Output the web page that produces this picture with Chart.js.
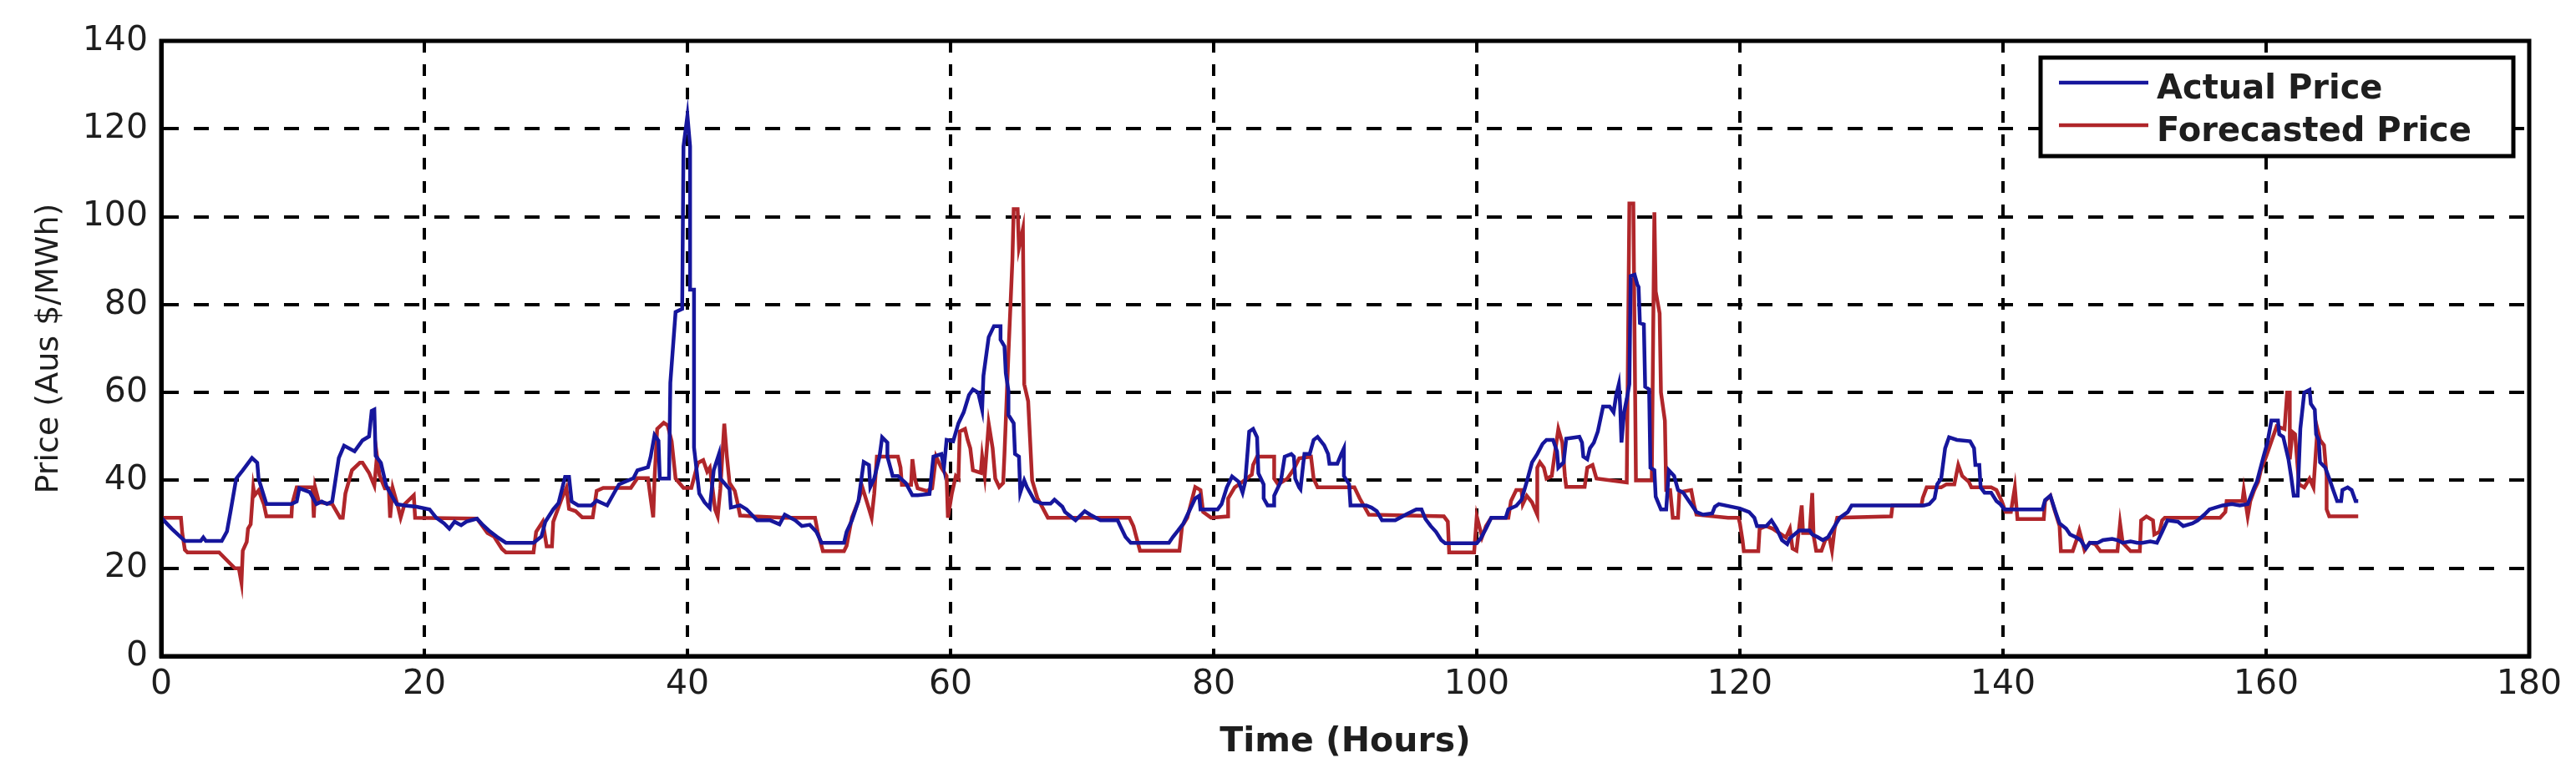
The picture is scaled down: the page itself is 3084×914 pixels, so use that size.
<!DOCTYPE html>
<html>
<head>
<meta charset="utf-8">
<script src="https://cdn.jsdelivr.net/npm/chart.js@4.4.0/dist/chart.umd.min.js"></script>
<style>
html,body{margin:0;padding:0;background:#fff;overflow:hidden}
#wrap{width:3084px;height:914px}
canvas{display:block}
</style>
</head>
<body>
<div id="wrap"><canvas id="c" width="3084" height="914" style="width:3084px;height:914px"></canvas></div>
<script>
// ---- data (hour, price in Aus $/MWh) ----
const seriesLabels = ['Actual Price', 'Forecasted Price'];
const seriesColors = ['#16169c', '#b0262a'];
const xAxisTitle = 'Time (Hours)';
const yAxisTitle = 'Price (Aus $/MWh)';
const xTickValues = [0, 20, 40, 60, 80, 100, 120, 140, 160, 180];
const yTickValues = [0, 20, 40, 60, 80, 100, 120, 140];

const actualPoints = [[0,31.5],[0.8,29],[1.8,26.2],[3.0,26.2],[3.2,27],[3.4,26.2],[4.6,26.2],[5.0,28.4],[5.3,33.4],[5.7,40.4],[6.2,42.3],[6.9,45.1],[7.3,44],[7.4,40.4],[8.0,34.6],[9.9,34.6],[10.3,35.2],[10.5,38.2],[11.3,37.3],[11.8,34.6],[12.2,35.2],[12.6,34.6],[13.0,35.2],[13.5,45.1],[13.9,47.9],[14.7,46.6],[15.3,49.1],[15.8,50],[16.0,55.8],[16.2,56.1],[16.3,45.6],[16.7,44],[17.1,38.8],[17.5,36.6],[17.9,34.6],[18.5,34.3],[19.4,34],[20.4,33.4],[20.9,31.5],[21.5,30.2],[21.9,29],[22.3,30.6],[22.8,29.8],[23.2,30.6],[24.0,31.3],[24.4,30],[24.9,28.6],[25.5,27.2],[26.2,25.8],[28.3,25.8],[28.9,27.2],[29.2,30.6],[29.8,33.4],[30.2,34.8],[30.7,40.8],[31.0,40.8],[31.2,35.2],[31.7,34.3],[32.7,34.3],[33.1,35.4],[33.9,34.3],[34.4,37],[34.8,39.1],[35.9,40.5],[36.2,42.3],[37.0,43],[37.2,45.3],[37.5,50.3],[37.8,49],[37.9,40.4],[38.6,40.4],[38.7,62.2],[39.1,78.3],[39.6,79],[39.7,116],[40.0,123],[40.2,116],[40.2,83.4],[40.5,83.4],[40.5,47.5],[40.9,37],[41.3,35],[41.7,33.7],[42.0,42.3],[42.4,46],[42.5,40.4],[43.2,38],[43.3,33.8],[44.0,34.3],[44.5,33.4],[45.3,30.9],[46.3,30.9],[47.0,30],[47.4,32.2],[48.2,30.9],[48.7,29.6],[49.3,29.9],[49.8,28.3],[50.2,25.8],[51.9,25.8],[52.1,28.3],[52.5,30.9],[53.0,35.3],[53.4,44.2],[53.8,43.5],[53.9,38.5],[54.2,40.4],[54.6,45.4],[54.8,49.8],[55.2,48.6],[55.2,45.4],[55.6,41],[56.0,41],[56.6,39.4],[57.1,36.6],[57.5,36.6],[58.4,36.9],[58.5,39.7],[58.7,45.4],[59.3,46],[59.5,42.9],[59.7,49.2],[60.2,48.9],[60.6,53],[61.0,55.5],[61.4,59.4],[61.7,60.7],[62.1,60],[62.4,56.1],[62.5,63.8],[62.9,72.6],[63.3,75.1],[63.8,75.1],[63.8,72],[64.1,70.5],[64.2,64.4],[64.4,60.4],[64.4,54.9],[64.8,53],[64.9,46],[65.2,45.4],[65.3,37.2],[65.6,40],[65.8,38.5],[66.4,35.3],[67.0,34.7],[67.6,34.7],[67.9,35.6],[68.5,34],[68.7,32.8],[69.5,30.9],[70.2,33],[70.6,32.2],[71.4,30.9],[72.7,30.9],[72.9,29.6],[73.3,27.1],[73.7,25.8],[76.6,25.8],[76.9,27.1],[77.3,28.6],[77.7,30.2],[78.2,33.4],[78.6,35.9],[78.9,36.5],[79.0,33.4],[80.3,33.4],[80.6,34.6],[81.0,38.4],[81.4,40.9],[81.9,39.7],[82.2,37.2],[82.4,39.7],[82.7,51.1],[83.0,51.7],[83.3,49.8],[83.4,41.6],[83.8,39.1],[83.8,35.9],[84.1,34.3],[84.6,34.3],[84.6,36.5],[85.1,39.7],[85.4,45.4],[85.9,46],[86.1,45.4],[86.2,40.4],[86.5,38.4],[86.6,38],[86.8,43.5],[86.9,46],[87.3,46],[87.6,49.2],[87.9,49.9],[88.4,48],[88.7,46],[88.8,43.8],[89.4,43.8],[89.7,46],[89.9,47.3],[89.9,41],[90.3,39.1],[90.4,34.3],[91.6,34.3],[92.0,33.8],[92.4,33],[92.8,30.9],[93.8,30.9],[94.6,32.2],[95.4,33.4],[95.8,33.4],[96.1,31.2],[96.5,29.6],[96.9,28.3],[97.3,26.4],[97.6,25.7],[100.0,25.7],[100.3,26.8],[100.7,29],[101.1,31.5],[102.2,31.5],[102.4,33.4],[103.0,34.2],[103.4,35.6],[103.8,39.7],[104.2,44.1],[104.6,46],[105.0,48.3],[105.3,49.2],[105.8,49.2],[106.1,46.6],[106.2,42.9],[106.6,44.1],[106.8,49.5],[107.8,49.9],[108.0,48.6],[108.1,45.4],[108.4,44.8],[108.6,47.3],[108.9,48.6],[109.2,51.1],[109.6,56.8],[110.1,56.8],[110.4,55.5],[110.6,59.4],[110.8,61.9],[110.9,57],[111.0,48.6],[111.2,55.5],[111.4,58.5],[111.6,61.9],[111.7,86.5],[112.0,86.8],[112.2,84.6],[112.3,84],[112.4,75.8],[112.7,75.5],[112.8,61.3],[113.1,60.7],[113.2,42.9],[113.5,42.3],[113.6,36.3],[114.0,33.4],[114.4,33.4],[114.6,42.3],[115.0,41],[115.3,37.8],[115.7,37.2],[115.9,36.3],[116.7,32.8],[117.2,32.2],[117.9,32.5],[118.1,34],[118.4,34.6],[120.0,33.6],[120.7,32.8],[121.1,31.5],[121.3,29.6],[122.0,29.6],[122.4,30.9],[122.8,29],[123.2,26.4],[123.6,25.5],[123.8,26.8],[124.5,28.6],[125.3,28.6],[125.5,27.7],[125.9,27.1],[126.3,26.4],[126.7,27.1],[127.2,29.6],[127.6,31.5],[128.2,32.8],[128.5,34.3],[134.0,34.3],[134.4,34.6],[134.8,35.9],[135.0,39.1],[135.3,40.4],[135.6,47.3],[135.9,49.8],[136.5,49.2],[137.5,48.9],[137.8,47.3],[137.9,43.5],[138.2,43.5],[138.3,38.4],[138.6,37.2],[139.1,37.2],[139.5,35.3],[139.8,34.6],[140.1,33.4],[143.0,33.4],[143.2,35.5],[143.6,36.5],[144.0,32.8],[144.3,30.2],[144.8,29],[145.1,27.7],[145.5,27.1],[145.9,26.4],[146.3,24.5],[146.6,25.8],[147.2,25.8],[147.6,26.4],[148.3,26.7],[148.7,26.4],[149.1,25.8],[149.7,26.1],[150.2,25.8],[150.6,25.8],[151.2,26.1],[151.7,25.8],[152.1,28.3],[152.5,30.9],[153.3,30.6],[153.7,29.6],[154.4,30.2],[154.8,30.9],[155.3,32.2],[155.7,33.4],[156.7,34.3],[157.4,34.6],[158.0,34.3],[158.6,34.6],[159.1,38.4],[159.3,39.7],[159.8,45.4],[160.1,48.6],[160.4,53.6],[160.9,53.6],[161.0,50.5],[161.3,49.9],[161.7,44.8],[161.9,40.9],[162.1,36.5],[162.4,36.5],[162.5,44.1],[162.6,51.7],[162.9,60],[163.3,60.6],[163.4,57.4],[163.7,56.1],[163.8,50.5],[164.0,49.2],[164.1,44.1],[164.5,42.9],[164.8,40.4],[165.1,37.8],[165.4,35.3],[165.7,35.3],[165.8,37.8],[166.2,38.4],[166.5,37.8],[166.8,35.3],[167.0,35.3]];

const forecastPoints = [[0,31.5],[1.5,31.5],[1.6,28],[1.8,24.2],[2.0,23.6],[4.4,23.6],[5.6,20],[5.9,20],[6.1,16.7],[6.2,24],[6.5,26],[6.6,29],[6.8,30],[7.0,38.4],[7.1,36.6],[7.4,37.7],[7.8,34.6],[8.0,31.8],[9.9,31.8],[9.95,34.6],[10.3,38.4],[11.5,38.4],[11.6,31.5],[11.7,38.4],[12.0,35],[13.0,34.6],[13.6,31.5],[13.8,31.5],[14.0,37],[14.5,42.3],[15.1,44],[15.3,44],[15.8,41.7],[16.2,38.8],[16.4,45.6],[16.6,41.1],[17.0,38.2],[17.3,38.2],[17.4,31.5],[17.6,38.2],[18.0,34],[18.2,31.5],[18.5,34.6],[19.2,36.6],[19.3,31.5],[24.0,31.3],[24.8,28],[25.3,27.2],[25.9,24.4],[26.2,23.6],[28.3,23.6],[28.5,28.3],[29.0,30.6],[29.3,25],[29.7,25],[29.8,30.6],[30.4,35.5],[30.8,38.3],[31.0,33.5],[31.5,33],[32.0,31.6],[32.8,31.6],[33.1,37.6],[33.6,38.3],[35.7,38.3],[36.2,40.5],[37.0,40.5],[37.2,36],[37.4,31.6],[37.5,40.4],[37.7,51.7],[38.2,53.1],[38.5,52.5],[38.8,48.9],[39.1,40.4],[39.7,38.3],[40.3,38.3],[40.8,44],[41.2,44.6],[41.5,42],[41.7,42.9],[41.9,38.4],[42.1,33.4],[42.3,31.8],[42.5,38],[42.8,52.9],[43.0,45.4],[43.2,39.4],[43.6,37.6],[43.8,35],[44.0,32],[45.0,31.8],[47.4,31.5],[49.7,31.5],[49.9,28.3],[50.3,23.9],[51.9,23.9],[52.1,25.1],[52.5,31.5],[53.0,35.3],[53.3,38.4],[53.7,34.5],[54.0,31.5],[54.2,37],[54.4,45.4],[56.0,45.4],[56.2,42.9],[56.3,39],[57.0,39],[57.1,44.8],[57.3,40.2],[57.5,38.2],[58.2,37.6],[58.6,38.2],[58.9,45.4],[59.3,42.9],[59.7,41],[59.8,31.5],[60.1,37],[60.4,41],[60.6,40.4],[60.7,51.1],[61.1,51.7],[61.3,49.2],[61.5,47.3],[61.7,42.3],[62.3,41.7],[62.4,45.4],[62.6,41],[62.9,52.9],[63.2,47.3],[63.4,40.4],[63.7,38.5],[64.0,39.4],[64.1,46],[64.4,68.8],[64.7,90],[64.8,101.7],[65.1,101.7],[65.2,93],[65.5,97.2],[65.6,61.9],[65.9,58],[66.1,46],[66.2,40],[66.6,36],[67.4,31.5],[73.6,31.5],[73.9,29.6],[74.4,24],[77.4,24],[77.6,29.6],[78.0,31.5],[78.6,38.5],[79.0,37.8],[79.2,32.8],[79.8,31.5],[81.1,31.8],[81.1,35.9],[81.6,38.4],[82.2,39.7],[82.9,41.3],[83.0,43.5],[83.3,45.4],[84.6,45.4],[84.6,40.4],[84.9,39.1],[85.6,40.4],[86.1,42.6],[86.5,45],[87.4,45.4],[87.6,40.4],[87.9,38.4],[90.7,38.4],[91.1,35.9],[91.8,32.2],[97.5,31.8],[97.8,30.6],[97.9,23.6],[99.8,23.6],[100.0,31.8],[100.4,27.1],[100.7,29.6],[101.1,31.5],[102.4,31.5],[102.6,35.3],[103.0,37.8],[103.4,37.8],[103.5,34.6],[103.8,36.5],[104.2,35],[104.6,32.2],[104.6,42.9],[104.8,44.1],[105.1,42.9],[105.3,40.4],[105.7,41],[105.9,45.4],[106.2,51.7],[106.5,48.6],[106.7,41],[106.8,38.5],[108.2,38.5],[108.4,42.9],[108.8,43.5],[109.1,40.4],[111.4,39.5],[111.6,103],[111.9,103],[112.1,40],[113.3,40],[113.5,101],[113.6,83],[113.9,78],[114.0,60],[114.3,53.6],[114.4,37.8],[114.7,37.8],[114.9,31.5],[115.3,31.5],[115.4,37.3],[116.3,37.8],[116.5,34.6],[116.7,32.2],[119.1,31.5],[119.9,31.5],[120.0,30.2],[120.2,26.4],[120.3,23.9],[121.4,23.9],[121.5,29],[122.0,29.6],[122.5,29],[123.5,27],[123.8,29],[124.0,24.5],[124.3,24],[124.7,34.3],[124.8,28],[125.3,28],[125.5,37.1],[125.6,27.5],[125.8,24],[126.2,24],[126.5,26.5],[126.8,27],[127.0,24],[127.2,29],[127.4,31.5],[131.5,31.8],[131.6,34.3],[133.8,34.3],[133.9,36],[134.2,38.4],[135.3,38.4],[135.7,39.1],[136.3,39.1],[136.6,43.5],[136.9,41],[137.4,39.7],[137.6,38.4],[139.1,38.4],[139.5,37.8],[139.9,35.3],[140.2,32.8],[140.6,32.8],[140.9,38.4],[141.1,31.2],[143.1,31.2],[143.2,35.3],[143.6,36.5],[143.9,33.4],[144.3,29.6],[144.4,23.9],[145.3,23.9],[145.6,26.5],[145.8,28.6],[146.0,26.4],[146.2,24.1],[146.6,25.8],[147.0,25.5],[147.4,23.9],[148.7,23.9],[148.9,30.2],[149.1,25.8],[149.7,23.9],[150.4,23.9],[150.5,30.9],[150.9,31.8],[151.4,30.9],[151.5,27.7],[151.9,28.3],[152.1,30.9],[152.3,31.5],[156.5,31.5],[156.9,32.8],[157.0,35.3],[158.2,35.3],[158.3,37.8],[158.6,31.8],[158.8,35.3],[159.1,37.8],[159.4,39.7],[159.6,42.3],[160.0,45.4],[160.8,52.3],[161.4,51.7],[161.6,60],[161.8,60],[161.8,44.8],[162.0,51],[162.2,50.5],[162.5,39.1],[162.9,38.4],[163.3,40.4],[163.6,38.4],[163.9,51.7],[164.1,49.2],[164.4,48],[164.6,41],[164.6,33.4],[164.8,31.8],[167.0,31.8]];

// ---- chart ----
const toXY = pts => pts.map(p => ({x: p[0], y: p[1]}));
const FONT = '"DejaVu Sans", "Liberation Sans", sans-serif';
Chart.defaults.font.family = FONT;
Chart.defaults.color = '#1e1e1e';

const frame = {
  id: 'frame',
  afterDraw(chart) {
    const {ctx, chartArea: a} = chart;
    ctx.save();
    ctx.strokeStyle = '#000';
    ctx.lineWidth = 5;
    ctx.strokeRect(a.left, a.top, a.right - a.left, a.bottom - a.top);
    // legend box, top-right inside the axes
    const w = 566, h = 118;
    const left = a.right - 19 - w, top = a.top + 20;
    ctx.fillStyle = '#fff';
    ctx.fillRect(left, top, w, h);
    ctx.strokeRect(left, top, w, h);
    chart.data.datasets.forEach((ds, i) => {
      const y = top + 30 + i * 51;
      ctx.strokeStyle = ds.borderColor;
      ctx.lineWidth = 4.5;
      ctx.beginPath();
      ctx.moveTo(left + 22, y);
      ctx.lineTo(left + 129, y);
      ctx.stroke();
      ctx.fillStyle = '#1e1e1e';
      ctx.font = 'bold 40px ' + FONT;
      ctx.textBaseline = 'alphabetic';
      ctx.textAlign = 'left';
      ctx.fillText(ds.label, left + 139, y + 19);
    });
    ctx.restore();
  }
};

new Chart(document.getElementById('c'), {
  type: 'line',
  data: {
    datasets: [
      {label: seriesLabels[0], data: toXY(actualPoints), borderColor: seriesColors[0], borderWidth: 4.5, pointRadius: 0, tension: 0, fill: false},
      {label: seriesLabels[1], data: toXY(forecastPoints), borderColor: seriesColors[1], borderWidth: 4.5, pointRadius: 0, tension: 0, fill: false}
    ]
  },
  options: {
    responsive: false,
    devicePixelRatio: 1,
    animation: false,
    layout: {padding: {top: 49, right: 56, bottom: 0, left: 0}},
    plugins: {legend: {display: false}, tooltip: {enabled: false}},
    scales: {
      x: {
        type: 'linear', min: 0, max: 180,
        afterFit: s => { s.height = 128; },
        afterBuildTicks: s => { s.ticks = xTickValues.map(v => ({value: v})); },
        ticks: {font: {size: 41}, color: '#1e1e1e', padding: 10, maxRotation: 0, autoSkip: false},
        grid: {color: '#000', lineWidth: 4, drawTicks: false},
        border: {display: true, color: '#000', width: 5, dash: [14, 14]},
        title: {display: true, text: xAxisTitle, font: {size: 41, weight: 'bold'}, color: '#1e1e1e', padding: {top: 26, bottom: 0}}
      },
      y: {
        type: 'linear', min: 0, max: 140,
        afterFit: s => { s.width = 193; },
        afterBuildTicks: s => { s.ticks = yTickValues.map(v => ({value: v})); },
        ticks: {font: {size: 41}, color: '#1e1e1e', padding: 16, autoSkip: false},
        grid: {color: '#000', lineWidth: 4, drawTicks: false},
        border: {display: true, color: '#000', width: 5, dash: [18, 18]},
        title: {display: true, text: yAxisTitle, font: {size: 38}, color: '#1e1e1e', padding: {top: 36, bottom: 0}}
      }
    }
  },
  plugins: [frame]
});
</script>
</body>
</html>
